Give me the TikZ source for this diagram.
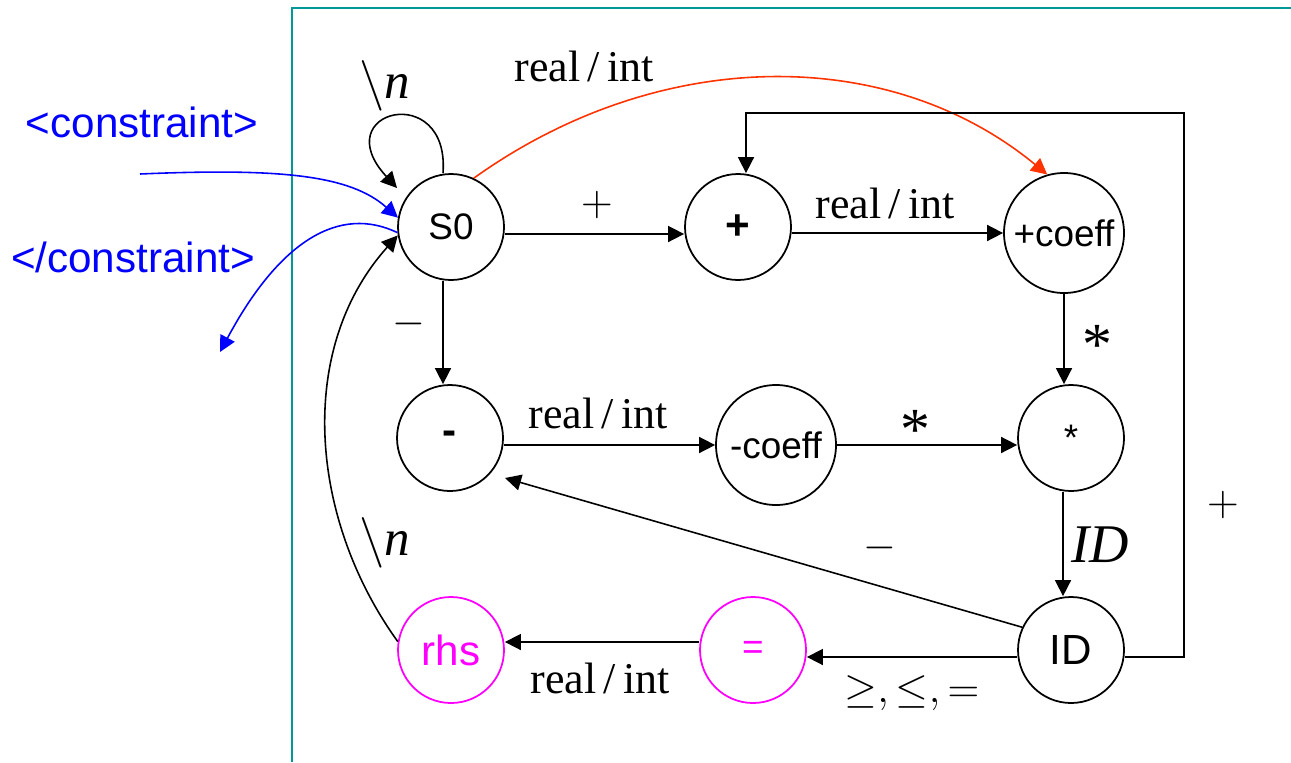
\documentclass[tikz,border=0pt]{standalone}
\usepackage{fontspec}
\setmainfont{Liberation Serif}
\setsansfont{Liberation Sans}
\usepackage{tikz}
\usetikzlibrary{arrows.meta, calc}
\definecolor{FrameTeal}{RGB}{0,153,153}
\definecolor{TagBlue}{RGB}{0,0,255}
\definecolor{JumpRed}{RGB}{255,51,0}
\definecolor{RhsMagenta}{RGB}{255,0,255}
\tikzset{
  fsmstate/.style={circle, draw, line width=0.5pt, minimum size=1.06cm, inner sep=0pt,
    font=\sffamily\fontsize{10.5}{12}\selectfont},
  coeffstate/.style={fsmstate, minimum size=1.2cm},
  opstate/.style={fsmstate, font=\sffamily\bfseries\fontsize{12}{14}\selectfont},
  bigstate/.style={fsmstate, font=\sffamily\fontsize{12}{14}\selectfont},
  rhsstate/.style={fsmstate, draw=RhsMagenta, text=RhsMagenta},
  tr/.style={-{Triangle[length=1.6mm, width=1.6mm]}, line width=0.45pt},
  tagarr/.style={tr, TagBlue},
  jumparr/.style={tr, JumpRed},
  lbl/.style={font=\fontsize{12.5}{14}\selectfont, inner sep=1pt},
  astlbl/.style={font=\fontsize{17}{18}\selectfont, inner sep=1pt},
  biglbl/.style={font=\fontsize{15.5}{18}\selectfont, inner sep=1pt},
  tag/.style={font=\sffamily\fontsize{12}{14}\selectfont, text=TagBlue, inner sep=1pt},
}

\begin{document}
\begin{tikzpicture}
  \useasboundingbox (0,0) rectangle (12.91,-7.62);
  \draw[FrameTeal, line width=0.7pt] (2.92,-7.62) |- (12.91,-0.08);

  % states
  \node[fsmstate] (s0) at (4.51,-2.27) {S0};
  \node[opstate] (plus) at (7.38,-2.27) {+};
  \node[coeffstate] (pcoeff) at (10.64,-2.33) {+coeff};
  \node[opstate] (minus) at (4.50,-4.38) {-};
  \node[coeffstate] (mcoeff) at (7.76,-4.45) {-coeff};
  \node[fsmstate] (star) at (10.71,-4.38) {*};
  \node[bigstate] (id) at (10.71,-6.50) {ID};
  \node[rhsstate] (eq) at (7.53,-6.50) {=};
  \node[rhsstate, font=\sffamily\fontsize{12}{14}\selectfont] (rhs) at (4.51,-6.50) {rhs};

  % tags
  \node[tag] (tagin) at (1.42,-1.22) {<constraint>};
  \node[tag] (tagout) at (1.33,-2.57) {</constraint>};
  \coordinate (tagstart) at (1.40,-1.74);
  \coordinate (tagend) at (2.20,-3.52);
  \draw[tagarr] (tagstart) .. controls (2.80,-1.68) and (3.50,-1.75) .. (s0.170);
  \draw[tagarr] (s0.186) .. controls (3.40,-2.05) and (2.80,-2.40) .. (tagend);

  % transitions
  \draw[tr] ([xshift=-0.08cm]s0.north) .. controls (4.50,-0.80) and (3.25,-1.10) .. ($(s0.center)+(-0.54,0.39)$);
  \draw[jumparr] (s0.65) .. controls (6.60,-0.45) and (8.90,-0.45) .. (pcoeff.106);
  \draw[tr] ([yshift=-0.07cm]s0.east) -- ([yshift=-0.07cm]plus.west);
  \draw[tr] (plus.east |- pcoeff.west) -- (pcoeff.west);
  \draw[tr] (pcoeff.south) -- (pcoeff.south |- star.north);
  \draw[tr] ([xshift=-0.08cm]s0.south) -- ([xshift=-0.07cm]minus.north);
  \draw[tr] (minus.east |- mcoeff.west) -- (mcoeff.west);
  \draw[tr] (mcoeff.east) -- (mcoeff.east -| star.west);
  \draw[tr] ([xshift=-0.08cm]star.south) -- ([xshift=-0.08cm]id.north);
  \draw[tr] (id.155) -- ($(minus.center)+(0.55,-0.40)$);
  \draw[tr] ([yshift=-0.07cm]id.west) -- ([yshift=-0.07cm]eq.east);
  \draw[tr] ([yshift=0.08cm]eq.west) -- ([yshift=0.08cm]rhs.east);
  \draw[tr] (rhs.171) .. controls (3.10,-5.20) and (2.95,-3.50) .. (s0.189);
  \coordinate (loopcorner) at (11.84,-1.13);
  \draw[tr] ([yshift=-0.07cm]id.east) -| (loopcorner) -| ([xshift=0.08cm]plus.north);

  % labels
  \node[lbl] (l-loop) at (3.85,-0.86) {\fontsize{14.5}{16}\selectfont$\backslash$\textit{n}};
  \node[lbl] (l-jump) at (5.84,-0.66) {real\,/\,int};
  \node[lbl] (l-s0plus) at (5.97,-2.05) {$+$};
  \node[lbl] (l-pluscoeff) at (8.85,-2.03) {real\,/\,int};
  \node[astlbl] (l-pstar) at (10.97,-3.45) {*};
  \node[lbl] (l-s0minus) at (4.09,-3.24) {$-$};
  \node[lbl] (l-mcoeff) at (5.98,-4.13) {real\,/\,int};
  \node[astlbl] (l-mstar) at (9.15,-4.30) {*};
  \node[biglbl] (l-id) at (11.00,-5.45) {\textit{ID}};
  \node[lbl] (l-back) at (8.80,-5.48) {$-$};
  \node[lbl] (l-cmp) at (9.12,-6.93) {$\geq,\leq,=$};
  \node[lbl] (l-rhs) at (6.00,-6.78) {real\,/\,int};
  \node[lbl] (l-return) at (3.85,-5.43) {\fontsize{14.5}{16}\selectfont$\backslash$\textit{n}};
  \node[lbl] (l-loopplus) at (12.23,-5.05) {$+$};
\end{tikzpicture}
\end{document}
